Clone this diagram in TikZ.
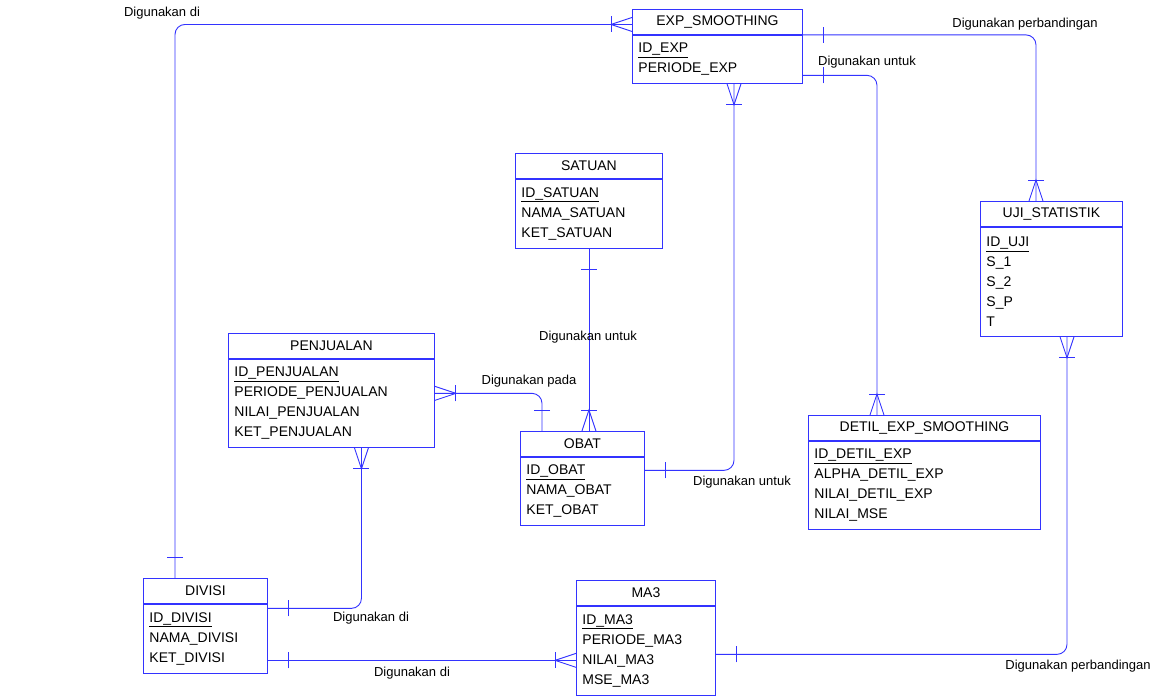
\documentclass[tikz,border=0pt]{standalone}
\usepackage{fontspec}
\setmainfont{Liberation Sans}
\usetikzlibrary{positioning}
\definecolor{erblue}{RGB}{51,51,255}

\tikzset{
  erline/.style={draw=erblue, line width=0.9pt},
  enthead/.style={draw=erblue, line width=0.9pt, anchor=north west, inner sep=0pt,
    minimum height=25pt, font=\fontsize{14}{20}\selectfont},
  entattr/.style={draw=erblue, line width=0.9pt, align=left, inner xsep=6pt,
    inner ysep=0pt, font=\fontsize{14}{20}\selectfont},
  rel/.style={font=\fontsize{13}{15}\selectfont}
}

% crow's foot (many) and bar (one) at a connector end
\newcommand{\manyend}[2]{%
  \begin{scope}[shift={(#1)}, rotate=#2]
    \draw[erline] (0,7) -- (21,0) -- (0,-7);
    \draw[erline] (21,8) -- (21,-8);
  \end{scope}}
\newcommand{\oneend}[2]{%
  \begin{scope}[shift={(#1)}, rotate=#2]
    \draw[erline] (21,8) -- (21,-8);
  \end{scope}}

\begin{document}
\begin{tikzpicture}[x=1pt, y=-1pt, node distance=0pt]
  \useasboundingbox (0,0) rectangle (1159,696);

  % entities
  \node[enthead, minimum width=170pt] (exp) at (632,9) {EXP\_SMOOTHING};
  \node[entattr, below=of exp, text width=158pt, minimum height=48pt] (exp-attr)
    {\underline{ID\_EXP}\\PERIODE\_EXP};

  \node[enthead, minimum width=147pt] (satuan) at (515,153) {SATUAN};
  \node[entattr, below=of satuan, text width=135pt, minimum height=69pt] (satuan-attr)
    {\underline{ID\_SATUAN}\\NAMA\_SATUAN\\KET\_SATUAN};

  \node[enthead, minimum width=206pt] (penjualan) at (228,333) {PENJUALAN};
  \node[entattr, below=of penjualan, text width=194pt, minimum height=88pt] (penjualan-attr)
    {\underline{ID\_PENJUALAN}\\PERIODE\_PENJUALAN\\NILAI\_PENJUALAN\\KET\_PENJUALAN};

  \node[enthead, minimum width=124pt] (obat) at (520,431) {OBAT};
  \node[entattr, below=of obat, text width=112pt, minimum height=68pt] (obat-attr)
    {\underline{ID\_OBAT}\\NAMA\_OBAT\\KET\_OBAT};

  \node[enthead, minimum width=142pt] (uji) at (980,201) {UJI\_STATISTIK};
  \node[entattr, below=of uji, text width=130pt, minimum height=109pt] (uji-attr)
    {\underline{ID\_UJI}\\S\_1\\S\_2\\S\_P\\T};

  \node[enthead, minimum width=232pt] (detil) at (808,415) {DETIL\_EXP\_SMOOTHING};
  \node[entattr, below=of detil, text width=220pt, minimum height=88pt] (detil-attr)
    {\underline{ID\_DETIL\_EXP}\\ALPHA\_DETIL\_EXP\\NILAI\_DETIL\_EXP\\NILAI\_MSE};

  \node[enthead, minimum width=124pt] (divisi) at (143,578) {DIVISI};
  \node[entattr, below=of divisi, text width=112pt, minimum height=69pt] (divisi-attr)
    {\underline{ID\_DIVISI}\\NAMA\_DIVISI\\KET\_DIVISI};

  \node[enthead, minimum width=139pt] (ma3) at (576,580) {MA3};
  \node[entattr, below=of ma3, text width=127pt, minimum height=89pt] (ma3-attr)
    {\underline{ID\_MA3}\\PERIODE\_MA3\\NILAI\_MA3\\MSE\_MA3};

  % connector ends
  \coordinate (expL) at ([yshift=-2.5pt]exp.west);
  \coordinate (divT) at ([xshift=32pt]divisi.north west);
  \coordinate (expR) at (exp.south east);
  \coordinate (ujiT) at ([xshift=56pt]uji.north west);
  \coordinate (expR2) at ([yshift=-16pt]exp-attr.east);
  \coordinate (detT) at ([xshift=69pt]detil.north west);
  \coordinate (satB) at (satuan-attr.south);
  \coordinate (obtT) at (satB |- obat.north);
  \coordinate (penR) at ([yshift=10pt]penjualan-attr.east);
  \coordinate (obtT2) at ([xshift=22pt]obat.north west);
  \coordinate (penB) at ([xshift=30pt]penjualan-attr.south);
  \coordinate (divR) at ([yshift=30.5pt]divisi-attr.east);
  \coordinate (divR2) at ([yshift=-21.5pt]divisi-attr.east);
  \coordinate (ma3L) at (divR2 -| ma3-attr.west);
  \coordinate (ma3R) at ([yshift=-3.5pt]ma3-attr.east);
  \coordinate (ujiB) at ([xshift=87pt]uji-attr.south west);
  \coordinate (obtR) at ([yshift=21pt]obat-attr.east);
  \coordinate (expB) at ([xshift=102pt]exp-attr.south west);

  % relations
  \draw[erline, rounded corners=10pt] (expL) -| (divT);
  \manyend{expL}{180} \oneend{divT}{90}
  \draw[erline, rounded corners=10pt] (expR) -| (ujiT);
  \oneend{expR}{0} \manyend{ujiT}{90}
  \draw[erline, rounded corners=10pt] (expR2) -| (detT);
  \oneend{expR2}{0} \manyend{detT}{90}
  \draw[erline] (satB) -- (obtT);
  \oneend{satB}{270} \manyend{obtT}{90}
  \draw[erline, rounded corners=10pt] (penR) -| (obtT2);
  \manyend{penR}{0} \oneend{obtT2}{90}
  \draw[erline, rounded corners=10pt] (penB) |- (divR);
  \manyend{penB}{270} \oneend{divR}{0}
  \draw[erline] (divR2) -- (ma3L);
  \oneend{divR2}{0} \manyend{ma3L}{180}
  \draw[erline, rounded corners=10pt] (ma3R) -| (ujiB);
  \oneend{ma3R}{0} \manyend{ujiB}{270}
  \draw[erline, rounded corners=10pt] (obtR) -| (expB);
  \oneend{obtR}{0} \manyend{expB}{270}

  % relation labels
  \node[rel] (lbl-div) at (162,13) {Digunakan di};
  \node[rel] (lbl-uji) at (1025,24) {Digunakan perbandingan};
  \node[rel] (lbl-detil) at (867,62) {Digunakan untuk};
  \node[rel] (lbl-satuan) at (588,337) {Digunakan untuk};
  \node[rel] (lbl-penj) at (529,381) {Digunakan pada};
  \node[rel] (lbl-penjdiv) at (371,618) {Digunakan di};
  \node[rel] (lbl-ma3) at (412,673) {Digunakan di};
  \node[rel] (lbl-ma3uji) at (1078,666) {Digunakan perbandingan};
  \node[rel] (lbl-obat) at (742,482) {Digunakan untuk};
\end{tikzpicture}
\end{document}
